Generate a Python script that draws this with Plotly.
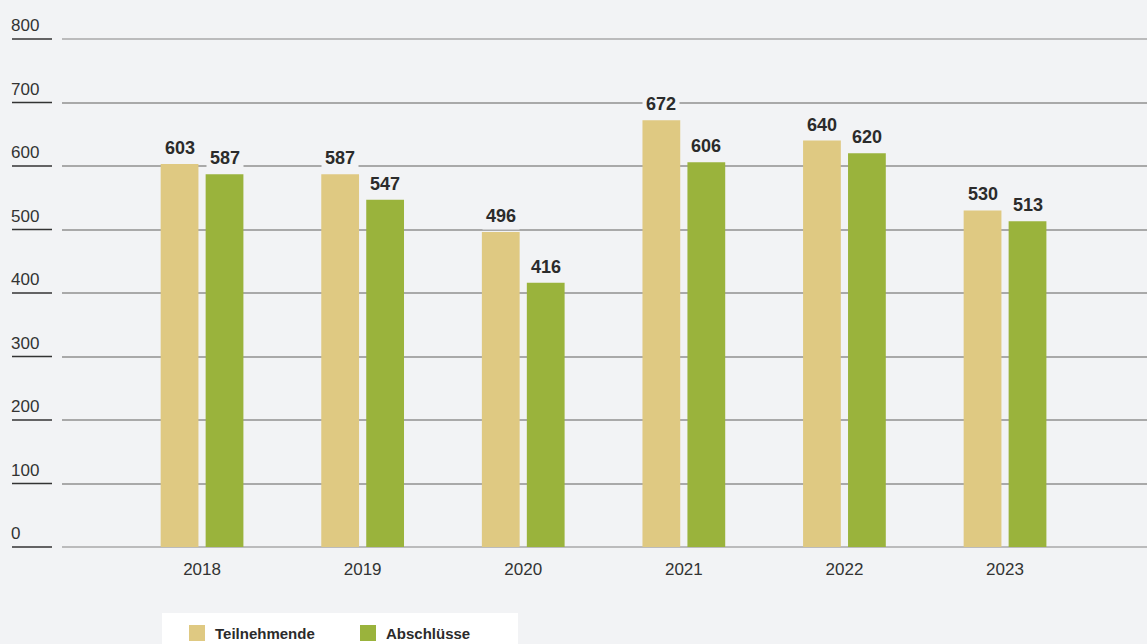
import plotly.graph_objects as go

# Data
years = ["2018", "2019", "2020", "2021", "2022", "2023"]
teilnehmende = [603, 587, 496, 672, 640, 530]
abschluesse = [587, 547, 416, 606, 620, 513]
series_names = ["Teilnehmende", "Abschlüsse"]
series_colors = ["#dfc982", "#9ab33c"]
y_ticks = [0, 100, 200, 300, 400, 500, 600, 700, 800]

BG = "#f2f3f5"
FONT = "Liberation Sans, Arial, sans-serif"
W, H = 1147, 644
ML, MT, MB = 62, 39, 97
PW = W - ML
PH = H - MT - MB


def px_x(px):
    return (px - ML) / PW


def px_y(py):
    return (H - MB - py) / PH


fig = go.Figure()
for name, vals, col in zip(series_names, [teilnehmende, abschluesse], series_colors):
    fig.add_trace(go.Bar(x=years, y=vals, name=name, marker_color=col,
                         marker_line_width=0, showlegend=False))

annotations = []
shapes = []

# gridlines at the range edges (plotly skips those)
for t in (y_ticks[0], y_ticks[-1]):
    shapes.append(dict(type="line", xref="paper", yref="paper",
                       x0=0, x1=1, y0=t / 800, y1=t / 800, layer="below",
                       line=dict(color="#a9a9a9", width=1.5)))

# value labels above bars, masking the gridlines behind them
offsets = [-0.14, 0.14]
for vals, off in zip([teilnehmende, abschluesse], offsets):
    for i, v in enumerate(vals):
        annotations.append(dict(
            x=i + off, y=v, xref="x", yref="y", text=f"<b>{v}</b>",
            showarrow=False, yanchor="bottom", yshift=2,
            font=dict(family=FONT, size=18, color="#2b2b2b"),
            bgcolor=BG, borderpad=3,
        ))

# y-axis labels with short underlines
for t in y_ticks:
    yp = t / 800
    annotations.append(dict(
        x=px_x(9), y=yp, xref="paper", yref="paper", text=str(t),
        showarrow=False, xanchor="left", yanchor="bottom", yshift=2,
        font=dict(family=FONT, size=17, color="#333333"),
    ))
    shapes.append(dict(type="line", xref="paper", yref="paper",
                       x0=px_x(12), x1=px_x(52), y0=yp, y1=yp,
                       line=dict(color="#333333", width=1.5)))

# legend box
shapes.append(dict(type="rect", xref="paper", yref="paper",
                   x0=px_x(162), x1=px_x(518), y0=px_y(650), y1=px_y(613),
                   fillcolor="white", line=dict(width=0), layer="below"))
legend_x = [189, 360]
for name, col, lx in zip(series_names, series_colors, legend_x):
    shapes.append(dict(type="rect", xref="paper", yref="paper",
                       x0=px_x(lx), x1=px_x(lx + 16), y0=px_y(641), y1=px_y(625),
                       fillcolor=col, line=dict(width=0)))
    annotations.append(dict(
        x=px_x(lx + 24), y=px_y(633), xref="paper", yref="paper",
        text=f"<b>{name}</b>", showarrow=False, xanchor="left", yanchor="middle",
        font=dict(family=FONT, size=15, color="#2b2b2b"),
    ))

fig.update_layout(
    width=W, height=H,
    margin=dict(l=ML, r=0, t=MT, b=MB),
    paper_bgcolor=BG, plot_bgcolor=BG,
    barmode="group", bargap=0.44, bargroupgap=0.16,
    annotations=annotations, shapes=shapes,
    xaxis=dict(range=[-0.872, 5.884], showgrid=False, zeroline=False,
               showline=False, ticks="", ticklabelstandoff=10,
               tickfont=dict(family=FONT, size=17, color="#333333")),
    yaxis=dict(range=[0, 800], tickvals=y_ticks, showticklabels=False,
               gridcolor="#a9a9a9", gridwidth=1.5, zeroline=False,
               showline=False, fixedrange=True),
    font=dict(family=FONT),
)

fig.write_html("out.html", config={"displayModeBar": False})
